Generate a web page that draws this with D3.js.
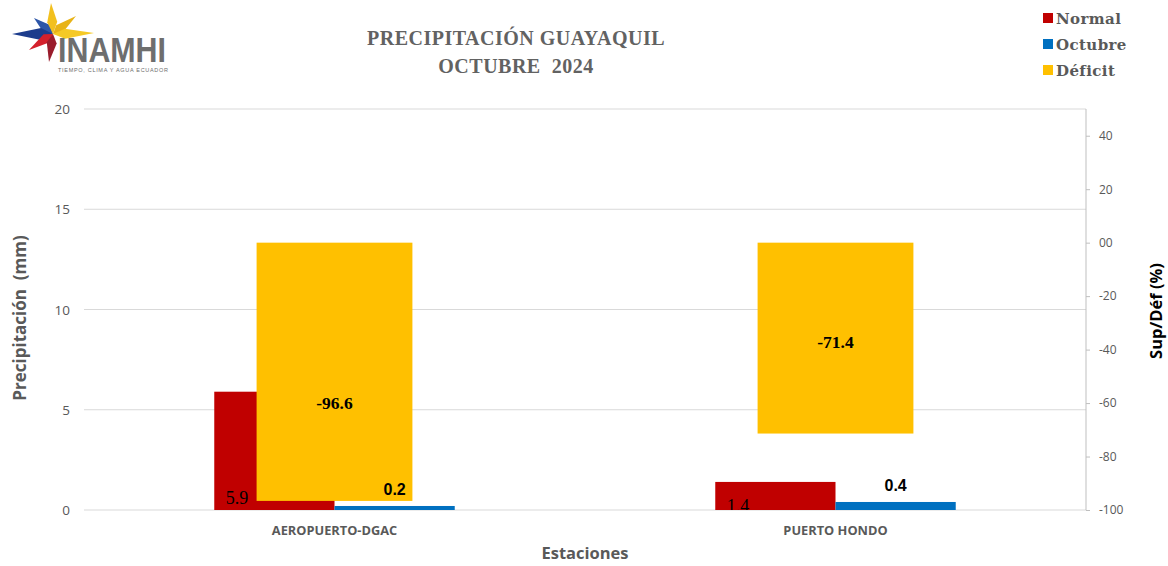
<!DOCTYPE html>
<html>
<head>
<meta charset="utf-8">
<script src="https://d3js.org/d3.v7.min.js"></script>
<style>
  body { margin: 0; background: #fff; }
</style>
</head>
<body>
<div class="vis"></div>
<script>
  // data
  const stations = ["AEROPUERTO-DGAC", "PUERTO HONDO"];
  const normal = [5.9, 1.4];
  const octubre = [0.2, 0.4];
  const deficit = [-96.6, -71.4];
  const leftTicks = [0, 5, 10, 15, 20];
  const rightTicks = [-100, -80, -60, -40, -20, 0, 20, 40];
  const legendItems = ["Normal", "Octubre", "Déficit"];
  const colors = ["#c00000", "#0070c0", "#ffc000"];

  const W = 1168, H = 566;
  const svg = d3.select(".vis").append("svg")
    .attr("width", W).attr("height", H)
    .attr("viewBox", [0, 0, W, H]);

  const pLeft = 84, pRight = 1086, pTop = 109, pBottom = 510;

  const x = d3.scaleBand().domain(stations).range([pLeft, pRight]).padding(0);
  const y = d3.scaleLinear().domain([0, 20]).range([pBottom, pTop]);
  const y2 = d3.scaleLinear().domain([-100, 50]).range([pBottom, pTop]);
  const barW = x.bandwidth() * 0.24;
  const defW = x.bandwidth() * 0.311;

  // gridlines
  svg.append("g")
    .selectAll("line")
    .data(leftTicks)
    .join("line")
    .attr("x1", pLeft).attr("x2", pRight)
    .attr("y1", d => y(d)).attr("y2", d => y(d))
    .attr("stroke", "#d9d9d9").attr("stroke-width", 1);

  // left axis labels
  svg.append("g")
    .selectAll("text")
    .data(leftTicks)
    .join("text")
    .attr("x", 70).attr("y", d => y(d) + 5)
    .attr("text-anchor", "end")
    .attr("font-family", "Open Sans, sans-serif")
    .attr("font-size", 13.5)
    .attr("fill", "#595959")
    .text(d => d);

  // right axis
  const rAxis = svg.append("g")
    .attr("transform", `translate(${pRight},0)`)
    .call(d3.axisRight(y2).tickValues(rightTicks).tickSize(4).tickPadding(9)
      .tickFormat(d => d === 0 ? "00" : d));
  rAxis.select(".domain").attr("stroke", "#bfbfbf").attr("d", `M0,${pTop}V${pBottom}`);
  rAxis.selectAll(".tick line").attr("stroke", "#bfbfbf");
  rAxis.selectAll(".tick text")
    .attr("font-family", "Open Sans, sans-serif")
    .attr("font-size", 12)
    .attr("fill", "#595959");

  // bars
  svg.append("clipPath").attr("id", "plot")
    .append("rect").attr("x", pLeft).attr("y", 0).attr("width", pRight - pLeft).attr("height", pBottom);

  svg.append("g").selectAll("rect")
    .data(stations)
    .join("rect")
    .attr("x", d => x(d) + x.bandwidth() / 2 - barW)
    .attr("y", (d, i) => y(normal[i]))
    .attr("width", barW)
    .attr("height", (d, i) => y(0) - y(normal[i]))
    .attr("fill", colors[0]);

  svg.append("g").selectAll("rect")
    .data(stations)
    .join("rect")
    .attr("x", d => x(d) + x.bandwidth() / 2)
    .attr("y", (d, i) => y(octubre[i]))
    .attr("width", barW)
    .attr("height", (d, i) => y(0) - y(octubre[i]))
    .attr("fill", colors[1]);

  svg.append("g").selectAll("rect")
    .data(stations)
    .join("rect")
    .attr("x", d => x(d) + x.bandwidth() / 2 - defW / 2)
    .attr("y", y2(0))
    .attr("width", defW)
    .attr("height", (d, i) => y2(deficit[i]) - y2(0))
    .attr("fill", colors[2]);

  // labels
  const normalLabelDy = [-6, 2];
  svg.append("g").attr("clip-path", "url(#plot)")
    .selectAll("text")
    .data(stations)
    .join("text")
    .attr("x", d => x(d) + x.bandwidth() / 2 - barW * 0.81)
    .attr("y", (d, i) => y(0) + normalLabelDy[i])
    .attr("text-anchor", "middle")
    .attr("font-family", "Liberation Serif, serif")
    .attr("font-size", 18)
    .attr("fill", "#000")
    .text((d, i) => normal[i].toFixed(1));

  svg.append("g").selectAll("text")
    .data(stations)
    .join("text")
    .attr("x", d => x(d) + x.bandwidth() / 2 + barW / 2)
    .attr("y", (d, i) => y(octubre[i]) - 11)
    .attr("text-anchor", "middle")
    .attr("font-family", "Liberation Sans, Arial, sans-serif")
    .attr("font-weight", "bold")
    .attr("font-size", 16)
    .attr("fill", "#000")
    .text((d, i) => octubre[i].toFixed(1));

  const defLabelY = [-60, -37];
  svg.append("g").selectAll("text")
    .data(stations)
    .join("text")
    .attr("x", d => x(d) + x.bandwidth() / 2)
    .attr("y", (d, i) => y2(defLabelY[i]) + 6)
    .attr("text-anchor", "middle")
    .attr("font-family", "Liberation Serif, serif")
    .attr("font-weight", "bold")
    .attr("font-size", 17.5)
    .attr("fill", "#000")
    .text((d, i) => deficit[i].toFixed(1));

  // x axis labels
  svg.append("g").selectAll("text")
    .data(stations)
    .join("text")
    .attr("x", d => x(d) + x.bandwidth() / 2)
    .attr("y", 535)
    .attr("text-anchor", "middle")
    .attr("font-family", "Open Sans, sans-serif")
    .attr("font-weight", "bold")
    .attr("font-size", 12.8)
    .attr("fill", "#595959")
    .text(d => d);

  // axis titles
  svg.append("text")
    .attr("transform", "translate(26,318) rotate(-90)")
    .attr("text-anchor", "middle")
    .attr("font-family", "Open Sans, sans-serif")
    .attr("font-weight", "bold")
    .attr("font-size", 17)
    .attr("fill", "#595959")
    .attr("xml:space", "preserve")
    .text("Precipitación  (mm)");

  svg.append("text")
    .attr("transform", "translate(1162,311) rotate(-90)")
    .attr("text-anchor", "middle")
    .attr("font-family", "Open Sans, sans-serif")
    .attr("font-weight", "bold")
    .attr("font-size", 16.5)
    .attr("fill", "#000")
    .text("Sup/Déf (%)");

  svg.append("text")
    .attr("x", 585).attr("y", 559)
    .attr("text-anchor", "middle")
    .attr("font-family", "Open Sans, sans-serif")
    .attr("font-weight", "bold")
    .attr("font-size", 16.5)
    .attr("fill", "#595959")
    .text("Estaciones");

  // title
  const title = svg.append("g")
    .attr("font-family", "Liberation Serif, serif")
    .attr("font-weight", "bold")
    .attr("font-size", 20)
    .attr("fill", "#626262")
    .attr("text-anchor", "middle");
  title.append("text").attr("x", 516).attr("y", 45).attr("letter-spacing", 0.5).text("PRECIPITACIÓN GUAYAQUIL");
  title.append("text").attr("x", 516).attr("y", 73).attr("xml:space", "preserve").attr("letter-spacing", 0.5).text("OCTUBRE  2024");

  // legend
  const legend = svg.append("g").selectAll("g")
    .data(legendItems)
    .join("g")
    .attr("transform", (d, i) => `translate(1043,${18 + i * 26})`);
  legend.append("rect")
    .attr("x", 0).attr("y", -5).attr("width", 10).attr("height", 10)
    .attr("fill", (d, i) => colors[i]);
  legend.append("text")
    .attr("x", 13).attr("y", 6)
    .attr("font-family", "DejaVu Serif, serif")
    .attr("font-weight", "bold")
    .attr("font-size", 15)
    .attr("letter-spacing", 0.4)
    .attr("fill", "#595959")
    .text(d => d);

  // logo: star made of kite-shaped rays
  const logo = svg.append("g");
  const c = [53, 34];
  function ray(tip, w, d) {
    const dx = tip[0] - c[0], dy = tip[1] - c[1];
    const len = Math.hypot(dx, dy);
    const ux = dx / len, uy = dy / len;
    const bx = c[0] + ux * d, by = c[1] + uy * d;
    return [c, [bx - uy * w, by + ux * w], tip, [bx + uy * w, by - ux * w]]
      .map(p => p.join(",")).join(" ");
  }
  const rays = [
    { tip: [34, 18], w: 5, d: 8, fill: "#2d56a8" },
    { tip: [12, 34], w: 6, d: 12, fill: "#1c3c8c" },
    { tip: [29, 50], w: 5, d: 8, fill: "#d4202c" },
    { tip: [49, 62], w: 5, d: 9, fill: "#9a1c2c" },
    { tip: [51, 3], w: 5, d: 12, fill: "#f2c01e" },
    { tip: [76, 16], w: 5, d: 8, fill: "#e8b317" },
    { tip: [94, 33], w: 5, d: 12, fill: "#f5c926" }
  ];
  logo.selectAll("polygon")
    .data(rays)
    .join("polygon")
    .attr("points", d => ray(d.tip, d.w, d.d))
    .attr("fill", d => d.fill);
  logo.append("text")
    .attr("x", 58).attr("y", 62)
    .attr("font-family", "Liberation Sans Narrow, Liberation Sans, sans-serif")
    .attr("font-weight", "bold")
    .attr("font-size", 35)
    .attr("fill", "#6e6e6e")
    .attr("textLength", 108)
    .attr("lengthAdjust", "spacingAndGlyphs")
    .text("INAMHI");
  logo.append("text")
    .attr("x", 58).attr("y", 72)
    .attr("font-family", "Liberation Sans, sans-serif")
    .attr("font-size", 5.5)
    .attr("fill", "#6e6e6e")
    .attr("textLength", 110)
    .text("TIEMPO, CLIMA Y AGUA ECUADOR");
</script>
</body>
</html>
